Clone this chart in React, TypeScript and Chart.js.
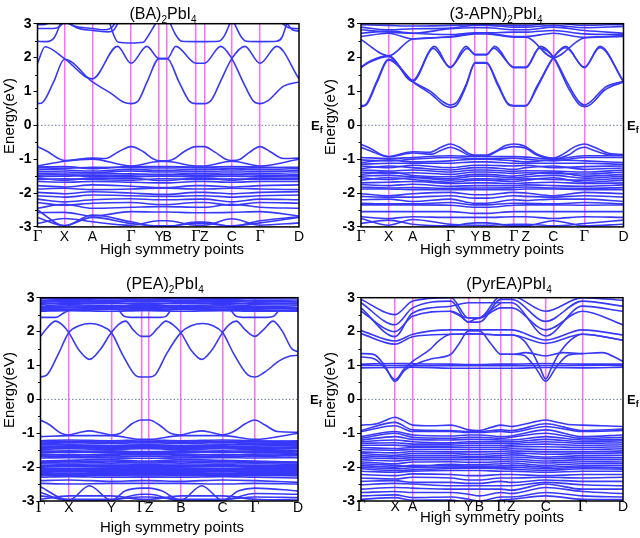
import React, { useEffect, useRef } from 'react';
import { Chart, registerables } from 'chart.js';
Chart.register(...registerables);

type Pt = [number, number];

const BAND = '#3838fa';
const MAGENTA = '#ff6cff';
const EF_COLOR = '#6b7a99';
const FONT = '"Liberation Sans", Arial, sans-serif';
const MINOR = [-2.5, -1.5, -0.5, 0.5, 1.5, 2.5];

// ---------------- Panel 1: (BA)2PbI4 ----------------
const kBA = [0, 10.3, 21.0, 35.8, 46.5, 49.6, 60.6, 63.8, 74.3, 85.1, 100];
const labelsBA = ['Γ', 'X', 'A', 'Γ', 'Y', 'B', 'Γ', 'Z', 'C', 'Γ', 'D'];
const curvesBA: Pt[][] = [
  [[0,0.64],[2,0.68],[6,1.25],[10.3,1.95],[21,1.28],[28,0.95],[33,0.68],[35.8,0.64],[38.5,0.72],[42,1.3],[46.5,1.97],[49.6,1.97],[54,1.3],[58,0.72],[60.6,0.64],[63.8,0.64],[66.5,0.75],[70,1.3],[74.3,1.97],[79.3,2.33],[85.1,1.83],[91.5,2.33],[100,1.37]],
  [[0,1.83],[2.9,2.32],[10.3,1.97],[21,1.37],[30.6,2.33],[35.8,1.83],[41.8,2.33],[46.5,1.97],[49.6,1.97],[52.9,2.33],[60.6,1.83],[63.8,1.83],[70.1,2.33],[74.3,1.97],[78.5,1.3],[82.5,0.72],[85.1,0.64],[88,0.72],[94,1.15],[100,1.28]],
  [[0,2.48],[3.5,2.47],[6.5,2.6],[9,3.05]],
  [[0,2.86],[6,2.86],[8.5,2.92],[10,3.05]],
  [[0,2.97],[3,2.98],[5,3.05]],
  [[11,3.05],[14,2.93],[21,2.86],[26,2.82],[28.5,2.9],[30,3.05]],
  [[11.5,3.05],[15,2.88],[21,2.8],[27,2.76],[29,2.8],[31,3.05]],
  [[27.5,3.05],[29.5,2.6],[31,2.45],[35.8,2.43],[40.5,2.45],[42,2.6],[45.5,3.05]],
  [[50.5,3.05],[53,2.65],[55.2,2.48],[60.6,2.47],[63.8,2.47],[69.2,2.48],[71.5,2.65],[73.8,3.05]],
  [[75,3.05],[78,2.6],[80,2.48],[85.1,2.47],[91.5,2.48],[93.5,2.6],[95.5,3.05]],
  [[93,3.05],[96,2.88],[100,2.85]],
  [[95,3.05],[97.5,2.82],[100,2.78]],
  [[0,-0.63],[4,-0.78],[8,-0.98],[10.3,-1.04],[21,-0.97],[26,-0.98],[31,-0.78],[35.8,-0.63],[40.5,-0.78],[44,-0.98],[46.5,-1.05],[49.6,-1.05],[52.5,-0.98],[56,-0.78],[60.6,-0.63],[63.8,-0.63],[68,-0.8],[72,-1.0],[74.3,-1.04],[77.5,-1.0],[81,-0.8],[85.1,-0.63],[89,-0.78],[94,-0.98],[100,-0.97]],
];
const levelsBA: number[][] = [
  [-1.2,-1.06,-1.0,-1.2,-1.07,-1.07,-1.2,-1.2,-1.06,-1.2,-1.0],
  [-1.23,-1.22,-1.28,-1.22,-1.22,-1.22,-1.23,-1.23,-1.22,-1.23,-1.28],
  [-1.25,-1.27,-1.24,-1.25,-1.26,-1.26,-1.25,-1.25,-1.27,-1.25,-1.24],
  [-1.3,-1.32,-1.35,-1.3,-1.33,-1.33,-1.3,-1.3,-1.32,-1.3,-1.33],
  [-1.36,-1.38,-1.4,-1.35,-1.38,-1.38,-1.36,-1.36,-1.38,-1.36,-1.38],
  [-1.42,-1.44,-1.44,-1.43,-1.45,-1.45,-1.42,-1.42,-1.44,-1.42,-1.45],
  [-1.47,-1.46,-1.52,-1.47,-1.46,-1.46,-1.47,-1.47,-1.46,-1.47,-1.5],
  [-1.52,-1.5,-1.48,-1.52,-1.5,-1.5,-1.52,-1.52,-1.5,-1.52,-1.48],
  [-1.56,-1.62,-1.56,-1.56,-1.63,-1.63,-1.56,-1.56,-1.62,-1.56,-1.56],
  [-1.6,-1.58,-1.6,-1.62,-1.58,-1.58,-1.6,-1.6,-1.58,-1.6,-1.6],
  [-1.66,-1.68,-1.66,-1.68,-1.7,-1.7,-1.66,-1.66,-1.68,-1.66,-1.66],
  [-1.78,-1.82,-1.76,-1.8,-1.84,-1.84,-1.78,-1.78,-1.82,-1.78,-1.76],
  [-1.88,-1.86,-1.9,-1.88,-1.86,-1.86,-1.88,-1.88,-1.86,-1.88,-1.9],
  [-1.98,-2.02,-1.96,-2.0,-2.04,-2.04,-1.98,-1.98,-2.02,-1.98,-1.96],
  [-2.08,-2.12,-2.06,-2.08,-2.1,-2.1,-2.08,-2.08,-2.12,-2.08,-2.06],
  [-2.18,-2.26,-2.2,-2.17,-2.2,-2.2,-2.18,-2.18,-2.26,-2.18,-2.2],
  [-2.28,-2.36,-2.3,-2.28,-2.34,-2.34,-2.28,-2.28,-2.36,-2.28,-2.3],
  [-2.45,-2.33,-2.45,-2.42,-2.4,-2.4,-2.42,-2.42,-2.33,-2.42,-2.45],
  [-2.58,-2.57,-2.68,-2.55,-2.56,-2.56,-2.58,-2.58,-2.57,-2.55,-2.68],
  [-2.5,-2.97,-2.65,-2.85,-3.0,-3.0,-2.86,-2.86,-2.98,-2.82,-2.7],
  [-2.72,-2.96,-2.72,-2.9,-2.97,-2.97,-2.9,-2.9,-2.97,-2.88,-2.72],
  [-2.9,-2.75,-2.85,-2.95,-2.82,-2.82,-2.95,-2.95,-2.76,-2.95,-2.88],
];

// ---------------- Panel 2: (3-APN)2PbI4 ----------------
const kAPN = [0, 10.5, 19.7, 34.0, 43.5, 47.8, 58.2, 62.8, 73.3, 85.1, 100];
const labelsAPN = ['Γ', 'X', 'A', 'Γ', 'Y', 'B', 'Γ', 'Z', 'C', 'Γ', 'D'];
const curvesAPN: Pt[][] = [
  [[0,0.55],[2,0.6],[6,1.25],[10.5,1.93],[19.7,1.28],[27,0.9],[31.5,0.6],[34,0.53],[36.5,0.6],[40,1.15],[43.5,1.83],[47.8,1.83],[52,1.2],[56,0.62],[58.2,0.57],[62.8,0.57],[67,1.1],[73.3,2.0],[78,2.33],[85.1,1.7],[91,2.33],[100,1.28]],
  [[0,0.57],[2,0.63],[6,1.3],[10.5,1.95],[19.7,1.3],[26.5,1.0],[31.5,0.68],[34,0.6],[36.5,0.68],[40,1.2],[43.5,1.85],[47.8,1.85],[52,1.25],[56,0.64],[58.2,0.58],[62.8,0.58],[67,1.15],[73.3,2.0],[78,2.29],[85.1,1.72],[91,2.29],[100,1.3]],
  [[0,1.70],[3,1.85],[10.5,2.03],[19.7,1.30],[28,2.33],[34,1.7],[40,2.33],[43.5,2.08],[47.8,2.08],[51,2.33],[58.2,1.7],[62.8,1.7],[68.5,2.33],[73.3,2.0],[79,1.1],[83,0.62],[85.1,0.55],[87.5,0.62],[93,1.05],[100,1.28]],
  [[0,1.72],[3.5,1.9],[10.5,2.05],[19.7,1.33],[27.5,2.27],[34,1.72],[40.5,2.27],[43.5,2.1],[47.8,2.1],[50.5,2.28],[58.2,1.72],[62.8,1.72],[68,2.28],[73.3,2.02],[79,1.2],[83,0.7],[85.1,0.6],[87.5,0.7],[93,1.12],[100,1.3]],
  [[0,-0.56],[4,-0.7],[8,-0.88],[10.5,-0.92],[19.7,-0.78],[26,-0.8],[30.5,-0.65],[34,-0.55],[37.5,-0.65],[41,-0.83],[43.5,-0.88],[47.8,-0.88],[51,-0.78],[55,-0.6],[58.2,-0.55],[60.5,-0.57],[62.8,-0.63],[67,-0.85],[73.3,-0.97],[77,-0.85],[81.5,-0.63],[85.1,-0.55],[89,-0.65],[94,-0.82],[100,-0.86]],
  [[0,-0.65],[5,-0.8],[10.5,-0.93],[19.7,-0.82],[27,-0.85],[31,-0.72],[34,-0.65],[37,-0.72],[42,-0.9],[47.8,-0.9],[53,-0.72],[58.2,-0.63],[62.8,-0.68],[67,-0.88],[73.3,-0.99],[79,-0.88],[82.5,-0.7],[85.1,-0.65],[88,-0.72],[94,-0.86],[100,-0.88]],
];
const levelsAPN: number[][] = [
  [2.97,2.95,2.93,2.95,2.97,2.97,2.95,2.95,3.02,2.95,2.98],
  [2.9,2.82,2.85,2.87,2.95,2.95,2.9,2.9,2.95,2.88,2.92],
  [2.82,2.75,2.72,2.85,2.88,2.88,2.82,2.82,2.9,2.8,2.72],
  [2.72,2.78,2.72,2.68,2.73,2.73,2.75,2.75,2.8,2.7,2.68],
  [2.62,2.72,2.55,2.62,2.72,2.72,2.62,2.62,2.72,2.6,2.65],
  [2.53,2.05,2.55,2.6,2.7,2.7,2.6,2.6,2.0,2.58,2.62],
  [-0.95,-0.98,-0.95,-0.9,-0.92,-0.92,-0.92,-0.94,-1.0,-0.9,-0.9],
  [-1.02,-1.05,-1.0,-0.95,-0.98,-0.98,-0.97,-1.0,-1.05,-0.95,-0.95],
  [-1.1,-1.02,-1.08,-1.05,-1.0,-1.0,-1.05,-1.08,-1.02,-1.05,-1.1],
  [-1.15,-1.12,-1.12,-1.12,-1.08,-1.08,-1.12,-1.12,-1.12,-1.12,-1.15],
  [-1.2,-1.25,-1.18,-1.25,-1.18,-1.18,-1.2,-1.18,-1.25,-1.22,-1.2],
  [-1.28,-1.2,-1.25,-1.32,-1.25,-1.25,-1.3,-1.25,-1.2,-1.3,-1.26],
  [-1.32,-1.35,-1.32,-1.38,-1.32,-1.32,-1.36,-1.34,-1.35,-1.38,-1.32],
  [-1.38,-1.42,-1.4,-1.45,-1.38,-1.38,-1.42,-1.4,-1.42,-1.44,-1.38],
  [-1.45,-1.38,-1.48,-1.52,-1.45,-1.45,-1.5,-1.46,-1.38,-1.5,-1.45],
  [-1.5,-1.48,-1.52,-1.58,-1.5,-1.5,-1.55,-1.52,-1.48,-1.56,-1.5],
  [-1.55,-1.6,-1.55,-1.62,-1.58,-1.58,-1.6,-1.58,-1.6,-1.62,-1.56],
  [-1.62,-1.55,-1.6,-1.68,-1.62,-1.62,-1.66,-1.62,-1.55,-1.68,-1.62],
  [-1.7,-1.68,-1.66,-1.72,-1.7,-1.7,-1.72,-1.7,-1.68,-1.72,-1.7],
  [-1.75,-1.78,-1.74,-1.8,-1.78,-1.78,-1.78,-1.76,-1.78,-1.8,-1.76],
  [-1.82,-1.85,-1.84,-1.86,-1.85,-1.85,-1.84,-1.82,-1.85,-1.86,-1.84],
  [-1.88,-1.88,-1.9,-1.9,-1.9,-1.9,-1.9,-1.88,-1.88,-1.9,-1.9],
  [-2.02,-2.08,-2.02,-1.98,-2.05,-2.05,-1.98,-2.0,-2.08,-1.98,-2.02],
  [-2.1,-2.12,-2.12,-2.08,-2.15,-2.15,-2.08,-2.1,-2.12,-2.08,-2.12],
  [-2.2,-2.18,-2.25,-2.18,-2.3,-2.3,-2.2,-2.22,-2.18,-2.18,-2.25],
  [-2.3,-2.32,-2.32,-2.28,-2.35,-2.35,-2.3,-2.3,-2.32,-2.28,-2.32],
  [-2.35,-2.35,-2.35,-2.36,-2.42,-2.42,-2.36,-2.35,-2.35,-2.36,-2.35],
  [-2.55,-2.55,-2.55,-2.55,-2.6,-2.6,-2.55,-2.55,-2.55,-2.55,-2.55],
  [-2.7,-2.75,-2.7,-2.72,-2.72,-2.72,-2.7,-2.7,-2.75,-2.7,-2.72],
  [-2.75,-2.95,-2.78,-2.92,-2.95,-2.95,-2.92,-2.92,-2.97,-2.9,-2.8],
  [-2.9,-2.8,-2.92,-2.97,-2.88,-2.88,-2.97,-2.97,-2.82,-2.97,-2.92],
];

// ---------------- Panel 3: (PEA)2PbI4 ----------------
const kPEA = [0, 11.0, 27.5, 39.2, 42.2, 54.5, 70.7, 83.3, 100];
const labelsPEA = ['Γ', 'X', 'Y', 'Γ', 'Z', 'B', 'C', 'Γ', 'D'];
const curvesPEA: Pt[][] = [
  [[0,0.66],[2.5,0.72],[7,1.35],[11,1.97],[15,2.17],[19.3,2.24],[23.5,2.17],[27.5,1.97],[32,1.3],[37,0.7],[39.2,0.66],[42.2,0.66],[44.5,0.72],[49,1.35],[54.5,1.97],[58.5,2.17],[63,2.24],[67,2.17],[70.7,1.97],[75,1.35],[80.5,0.72],[83.3,0.66],[87,0.8],[93,1.15],[97,1.28],[100,1.3]],
  [[0,1.86],[2.5,2.1],[5.8,2.31],[8.5,2.2],[11,1.97],[15,1.45],[19.1,1.18],[23,1.45],[27.5,1.97],[30.5,2.22],[33.1,2.31],[36,2.05],[39.2,1.86],[42.2,1.86],[45.5,2.1],[48.7,2.31],[51.5,2.2],[54.5,1.97],[58.5,1.45],[62.6,1.18],[66.5,1.45],[70.7,1.97],[73.5,2.22],[76,2.31],[79.5,2.05],[83.3,1.86],[86.5,2.05],[90.3,2.31],[94,2.0],[97.5,1.5],[100,1.4]],
  [[0,2.42],[6,2.42],[9,2.55],[11,2.62]],
  [[30.5,2.62],[32.5,2.45],[35,2.42],[39.2,2.42],[42.2,2.42],[46.5,2.42],[48.7,2.45],[50.5,2.62]],
  [[74,2.62],[76,2.45],[78.5,2.42],[83.3,2.42],[88,2.42],[90.5,2.45],[92.5,2.62]],
  [[0,-0.61],[3.5,-0.75],[8,-1.0],[11,-1.05],[15,-0.98],[19.1,-0.93],[23,-0.98],[27.5,-1.05],[31,-1.0],[35.5,-0.72],[39.2,-0.61],[42.2,-0.61],[46,-0.75],[50.5,-1.0],[54.5,-1.05],[58.5,-0.98],[62.6,-0.93],[66.5,-0.98],[70.7,-1.05],[75,-0.95],[79.5,-0.72],[83.3,-0.61],[87,-0.75],[92,-0.95],[100,-0.97]],
  [[0,-2.58],[11,-2.98],[19,-2.55],[27.5,-2.98],[33,-2.7],[39.2,-2.62],[42.2,-2.62],[47,-2.7],[54.5,-2.98],[62.6,-2.55],[70.7,-2.98],[77,-2.7],[83.3,-2.62],[100,-2.7]],
];
const levelsPEA: number[][] = [
  [2.6,2.62,2.6,2.62,2.62,2.6,2.62,2.6,2.62],
  [2.63,2.64,2.66,2.63,2.63,2.66,2.64,2.63,2.61],
  [2.65,2.66,2.68,2.64,2.64,2.68,2.66,2.65,2.6],
  [2.68,2.7,2.72,2.68,2.68,2.72,2.7,2.68,2.66],
  [2.7,2.72,2.7,2.72,2.72,2.7,2.72,2.7,2.68],
  [2.73,2.76,2.74,2.75,2.75,2.74,2.76,2.73,2.7],
  [2.75,2.8,2.76,2.78,2.78,2.76,2.8,2.75,2.72],
  [2.8,2.86,2.82,2.84,2.84,2.82,2.86,2.8,2.78],
  [2.83,2.83,2.86,2.8,2.8,2.86,2.83,2.83,2.82],
  [2.86,2.9,2.88,2.88,2.88,2.88,2.9,2.86,2.84],
  [2.9,2.92,2.91,2.92,2.92,2.91,2.92,2.9,2.88],
  [2.92,2.95,2.93,2.94,2.94,2.93,2.95,2.92,2.9],
  [2.97,2.98,2.98,2.99,2.99,2.98,2.98,2.97,2.96],
  [-1.1,-1.07,-1.07,-1.18,-1.18,-1.07,-1.07,-1.18,-1.0],
  [-1.22,-1.2,-1.22,-1.2,-1.2,-1.22,-1.2,-1.22,-1.25],
  [-1.24,-1.24,-1.27,-1.24,-1.24,-1.27,-1.24,-1.24,-1.22],
  [-1.26,-1.27,-1.25,-1.27,-1.27,-1.25,-1.27,-1.26,-1.28],
  [-1.3,-1.32,-1.3,-1.32,-1.32,-1.3,-1.32,-1.3,-1.3],
  [-1.34,-1.35,-1.36,-1.35,-1.35,-1.36,-1.35,-1.34,-1.33],
  [-1.38,-1.4,-1.38,-1.4,-1.4,-1.38,-1.4,-1.38,-1.36],
  [-1.42,-1.44,-1.42,-1.44,-1.44,-1.42,-1.44,-1.42,-1.4],
  [-1.45,-1.42,-1.45,-1.42,-1.42,-1.45,-1.42,-1.45,-1.42],
  [-1.48,-1.46,-1.48,-1.46,-1.46,-1.48,-1.46,-1.48,-1.45],
  [-1.52,-1.54,-1.52,-1.54,-1.54,-1.52,-1.54,-1.52,-1.5],
  [-1.55,-1.52,-1.55,-1.57,-1.57,-1.55,-1.52,-1.55,-1.53],
  [-1.58,-1.56,-1.58,-1.6,-1.6,-1.58,-1.56,-1.58,-1.55],
  [-1.62,-1.65,-1.62,-1.64,-1.64,-1.62,-1.65,-1.62,-1.6],
  [-1.65,-1.62,-1.66,-1.61,-1.61,-1.66,-1.62,-1.65,-1.63],
  [-1.68,-1.68,-1.7,-1.68,-1.68,-1.7,-1.68,-1.68,-1.66],
  [-1.73,-1.72,-1.73,-1.74,-1.74,-1.73,-1.72,-1.73,-1.72],
  [-1.82,-1.8,-1.78,-1.82,-1.82,-1.78,-1.8,-1.82,-1.85],
  [-1.84,-1.84,-1.82,-1.85,-1.85,-1.82,-1.84,-1.84,-1.86],
  [-1.86,-1.88,-1.85,-1.88,-1.88,-1.85,-1.88,-1.86,-1.88],
  [-1.9,-1.92,-1.9,-1.92,-1.92,-1.9,-1.92,-1.9,-1.92],
  [-1.95,-1.96,-1.94,-1.96,-1.96,-1.94,-1.96,-1.95,-1.96],
  [-1.98,-1.97,-1.98,-1.98,-1.98,-1.98,-1.97,-1.98,-1.98],
  [-2.0,-1.99,-2.0,-2.0,-2.0,-2.0,-1.99,-2.0,-2.0],
  [-2.04,-2.04,-2.05,-2.04,-2.04,-2.05,-2.04,-2.04,-2.04],
  [-2.06,-2.06,-2.07,-2.06,-2.06,-2.07,-2.06,-2.06,-2.06],
  [-2.08,-2.08,-2.1,-2.08,-2.08,-2.1,-2.08,-2.08,-2.08],
  [-2.1,-2.11,-2.08,-2.1,-2.1,-2.08,-2.11,-2.1,-2.1],
  [-2.12,-2.14,-2.12,-2.12,-2.12,-2.12,-2.14,-2.12,-2.12],
  [-2.16,-2.18,-2.16,-2.17,-2.17,-2.16,-2.18,-2.16,-2.16],
  [-2.18,-2.2,-2.18,-2.19,-2.19,-2.18,-2.2,-2.18,-2.19],
  [-2.2,-2.22,-2.2,-2.21,-2.21,-2.2,-2.22,-2.2,-2.22],
  [-2.23,-2.24,-2.22,-2.23,-2.23,-2.22,-2.24,-2.23,-2.24],
  [-2.25,-2.25,-2.25,-2.26,-2.26,-2.25,-2.25,-2.25,-2.26],
  [-2.3,-2.28,-2.3,-2.3,-2.3,-2.3,-2.28,-2.3,-2.32],
  [-2.4,-2.38,-2.42,-2.4,-2.4,-2.42,-2.38,-2.4,-2.45],
  [-2.48,-2.5,-2.48,-2.48,-2.48,-2.48,-2.5,-2.48,-2.5],
  [-2.75,-3.0,-2.98,-2.8,-2.8,-3.0,-2.98,-2.78,-2.8],
  [-2.85,-2.95,-2.95,-2.88,-2.88,-2.95,-2.95,-2.88,-2.9],
  [-2.95,-2.85,-2.85,-2.95,-2.95,-2.85,-2.85,-2.95,-2.97],
];

// ---------------- Panel 4: (PyrEA)PbI4 ----------------
const kPyr = [0, 13.0, 19.7, 34.3, 41.0, 45.2, 53.4, 57.4, 70.5, 84.5, 100];
const labelsPyr = ['Γ', 'X', 'A', 'Γ', 'Y', 'B', 'Γ', 'Z', 'C', 'Γ', 'D'];
const curvesPyr: Pt[][] = [
  [[0,1.35],[5,1.32],[9,1.0],[13,0.53],[16.5,0.85],[19.7,1.0],[27,1.2],[34.3,1.33],[37.5,1.65],[41,2.02],[45.2,2.02],[49.5,1.65],[53.4,1.33],[57.4,1.33],[62,1.3],[66.5,0.95],[70.5,0.53],[74.5,0.95],[79,1.3],[84.5,1.35],[92,1.38],[100,1.12]],
  [[0,1.25],[5,1.2],[9.5,0.9],[13,0.58],[16.5,0.9],[19.7,1.12],[26,1.45],[30,1.75],[34.3,1.92],[41,1.93],[45.2,1.93],[53.4,1.9],[57.4,1.9],[62,1.75],[66,1.3],[68.5,0.9],[70.5,0.6],[72.5,0.9],[75,1.28],[80,1.75],[84.5,1.92],[100,1.75]],
  [[53.4,1.33],[57.4,1.33],[63,1.38],[70.5,1.28],[77,1.38],[84.5,1.35]],
  [[34.3,2.6],[38,2.45],[41,2.28],[43,2.35],[45.2,2.4],[49,2.6],[53.4,2.85]],
  [[0,-0.76],[6,-0.72],[10,-0.6],[13,-0.53],[16,-0.62],[19.7,-0.76],[27,-0.78],[34.3,-0.76],[41,-0.9],[45.2,-0.92],[50,-0.82],[53.4,-0.76],[57.4,-0.8],[63,-0.72],[67,-0.65],[70.5,-0.61],[74,-0.66],[79,-0.74],[84.5,-0.76],[92,-0.78],[100,-0.8]],
];
const levelsPyr: number[][] = [
  [1.04,1.06,1.05,1.04,1.03,1.03,1.04,1.04,1.06,1.04,1.04],
  [1.0,1.0,1.0,0.99,0.99,0.99,0.99,0.99,1.0,1.0,1.01],
  [0.93,0.94,0.95,0.92,0.92,0.92,0.92,0.92,0.94,0.93,0.95],
  [2.03,1.72,1.92,2.05,2.05,2.05,2.05,2.05,1.75,2.05,1.9],
  [1.94,1.63,1.85,1.92,1.93,1.93,1.9,1.9,1.65,1.92,1.75],
  [2.7,1.85,2.55,2.75,2.85,2.85,2.85,2.85,1.87,2.75,2.6],
  [2.6,2.0,2.45,2.6,2.4,2.4,2.7,2.7,2.05,2.6,2.2],
  [2.85,2.2,2.7,2.9,2.28,2.28,2.95,2.95,2.3,2.9,2.75],
  [2.95,2.5,2.9,3.0,2.4,2.4,3.05,3.05,2.6,3.0,2.92],
  [-0.92,-0.68,-0.9,-0.92,-0.95,-0.95,-0.9,-0.92,-0.72,-0.92,-0.88],
  [-0.95,-0.78,-0.95,-0.95,-0.98,-0.98,-0.95,-0.97,-0.8,-0.95,-0.92],
  [-1.1,-0.95,-1.05,-1.08,-1.05,-1.05,-1.1,-1.08,-0.9,-1.1,-1.05],
  [-1.15,-1.0,-1.12,-1.15,-1.12,-1.12,-1.15,-1.12,-1.0,-1.15,-1.12],
  [-1.2,-1.1,-1.18,-1.2,-1.18,-1.18,-1.2,-1.2,-1.1,-1.2,-1.18],
  [-1.25,-1.2,-1.25,-1.28,-1.25,-1.25,-1.25,-1.25,-1.18,-1.25,-1.22],
  [-1.3,-1.28,-1.32,-1.32,-1.3,-1.3,-1.3,-1.3,-1.25,-1.3,-1.28],
  [-1.36,-1.35,-1.38,-1.38,-1.36,-1.36,-1.36,-1.35,-1.32,-1.36,-1.34],
  [-1.42,-1.45,-1.42,-1.42,-1.42,-1.42,-1.42,-1.4,-1.4,-1.42,-1.4],
  [-1.48,-1.5,-1.48,-1.48,-1.48,-1.48,-1.48,-1.46,-1.48,-1.48,-1.46],
  [-1.55,-1.58,-1.54,-1.55,-1.55,-1.55,-1.54,-1.52,-1.55,-1.55,-1.52],
  [-1.6,-1.65,-1.6,-1.6,-1.62,-1.62,-1.6,-1.58,-1.62,-1.6,-1.58],
  [-1.66,-1.7,-1.66,-1.66,-1.68,-1.68,-1.66,-1.64,-1.7,-1.66,-1.65],
  [-1.72,-1.75,-1.72,-1.72,-1.72,-1.72,-1.72,-1.7,-1.75,-1.72,-1.72],
  [-1.78,-1.82,-1.78,-1.78,-1.78,-1.78,-1.78,-1.76,-1.82,-1.78,-1.78],
  [-1.84,-1.9,-1.85,-1.84,-1.86,-1.86,-1.84,-1.82,-1.88,-1.84,-1.85],
  [-1.9,-1.95,-1.98,-1.92,-1.93,-1.93,-1.9,-1.88,-1.95,-1.9,-1.9],
  [-1.95,-2.0,-1.95,-1.96,-1.97,-1.97,-1.96,-1.94,-2.0,-1.96,-1.96],
  [-2.0,-2.05,-2.02,-2.0,-2.0,-2.0,-2.0,-2.0,-2.05,-2.0,-2.02],
  [-2.05,-2.1,-2.08,-2.04,-2.03,-2.03,-2.05,-2.06,-2.1,-2.05,-2.06],
  [-2.12,-2.15,-2.12,-2.1,-2.1,-2.1,-2.12,-2.12,-2.15,-2.12,-2.12],
  [-2.22,-2.25,-2.2,-2.22,-2.25,-2.25,-2.22,-2.22,-2.25,-2.22,-2.22],
  [-2.32,-2.35,-2.3,-2.32,-2.38,-2.38,-2.32,-2.32,-2.3,-2.32,-2.3],
  [-2.42,-2.4,-2.45,-2.45,-2.48,-2.48,-2.42,-2.45,-2.38,-2.42,-2.42],
  [-2.52,-2.48,-2.5,-2.55,-2.55,-2.55,-2.55,-2.55,-2.45,-2.52,-2.55],
  [-2.65,-2.6,-2.62,-2.65,-2.65,-2.65,-2.65,-2.68,-2.5,-2.65,-2.65],
  [-2.75,-2.72,-2.75,-2.75,-2.8,-2.85,-2.75,-2.78,-2.6,-2.72,-2.78],
  [-2.85,-2.82,-2.9,-2.88,-2.95,-3.0,-2.88,-2.88,-2.75,-2.85,-2.88],
  [-2.95,-2.9,-2.98,-2.97,-3.05,-3.05,-2.97,-2.95,-2.85,-2.95,-2.96],
];

const titleBA: [string, boolean][] = [['(BA)', false], ['2', true], ['PbI', false], ['4', true]];
const titleAPN: [string, boolean][] = [['(3-APN)', false], ['2', true], ['PbI', false], ['4', true]];
const titlePEA: [string, boolean][] = [['(PEA)', false], ['2', true], ['PbI', false], ['4', true]];
const titlePyr: [string, boolean][] = [['(PyrEA)PbI', false], ['4', true]];

interface PanelCfg {
  left: number; top: number;
  area: { l: number; r: number; t: number; b: number };
  kPos: number[]; labels: string[];
  curves: Pt[][]; levels: number[][];
  title: [string, boolean][];
  titleX: number; titleY: number;
  labelY: number; xTitleX: number; xTitleY: number;
  yTitleX: number; yTitleY: number; efX: number;
}

const CW = 336;
const H = 269;

const panels: PanelCfg[] = [
  { left: 0, top: 0, area: { l: 37.5, r: 299, t: 23.7, b: 226.9 }, kPos: kBA, labels: labelsBA, curves: curvesBA, levels: levelsBA, title: titleBA, titleX: 163, titleY: 15, labelY: 237, xTitleX: 172, xTitleY: 250, yTitleX: 10, yTitleY: 116, efX: 311 },
  { left: 320, top: 0, area: { l: 41, r: 303.5, t: 23.7, b: 226.9 }, kPos: kAPN, labels: labelsAPN, curves: curvesAPN, levels: levelsAPN, title: titleAPN, titleX: 176, titleY: 15, labelY: 237, xTitleX: 172, xTitleY: 250, yTitleX: 11, yTitleY: 117, efX: 307 },
  { left: 0, top: 269, area: { l: 40.5, r: 298, t: 28.7, b: 232 }, kPos: kPEA, labels: labelsPEA, curves: curvesPEA, levels: levelsPEA, title: titlePEA, titleX: 165, titleY: 16, labelY: 239, xTitleX: 172, xTitleY: 259, yTitleX: 10, yTitleY: 121, efX: 310 },
  { left: 320, top: 269, area: { l: 41, r: 303, t: 28.7, b: 232 }, kPos: kPyr, labels: labelsPyr, curves: curvesPyr, levels: levelsPyr, title: titlePyr, titleX: 189, titleY: 16, labelY: 238, xTitleX: 172, xTitleY: 249, yTitleX: 11, yTitleY: 121, efX: 307 },
];

function decorPlugin(cfg: PanelCfg) {
  return {
    id: 'decor',
    afterDraw(chart: any) {
      const { ctx, chartArea: a, scales } = chart;
      const x = scales.x, y = scales.y;
      ctx.save();
      ctx.strokeStyle = '#000';
      ctx.lineWidth = 1.5;
      ctx.strokeRect(a.left, a.top, a.right - a.left, a.bottom - a.top);
      ctx.lineWidth = 1;
      for (const v of MINOR) {
        const py = Math.round(y.getPixelForValue(v)) + 0.5;
        ctx.beginPath();
        ctx.moveTo(a.left - 2.5, py);
        ctx.lineTo(a.left, py);
        ctx.stroke();
      }
      ctx.fillStyle = '#000';
      ctx.textBaseline = 'middle';
      ctx.textAlign = 'center';
      cfg.kPos.forEach((k, i) => {
        const lab = cfg.labels[i];
        ctx.font = lab === 'Γ' ? '16px "Liberation Serif", serif' : '14px ' + FONT;
        ctx.fillText(lab, x.getPixelForValue(k), cfg.labelY);
      });
      ctx.font = '15px ' + FONT;
      ctx.fillText('High symmetry points', cfg.xTitleX, cfg.xTitleY);
      ctx.save();
      ctx.translate(cfg.yTitleX, cfg.yTitleY);
      ctx.rotate(-Math.PI / 2);
      ctx.fillText('Energy(eV)', 0, 0);
      ctx.restore();
      const mainFont = '16px ' + FONT;
      const subFont = '10px ' + FONT;
      let total = 0;
      for (const [t, sub] of cfg.title) {
        ctx.font = sub ? subFont : mainFont;
        total += ctx.measureText(t).width;
      }
      let cx = cfg.titleX - total / 2;
      ctx.textAlign = 'left';
      for (const [t, sub] of cfg.title) {
        ctx.font = sub ? subFont : mainFont;
        ctx.fillText(t, cx, cfg.titleY + (sub ? 5 : 0));
        cx += ctx.measureText(t).width;
      }
      const y0 = y.getPixelForValue(0);
      ctx.font = 'bold 13px ' + FONT;
      ctx.fillText('E', cfg.efX, y0 + 1);
      const wE = ctx.measureText('E').width;
      ctx.font = 'bold 9px ' + FONT;
      ctx.fillText('f', cfg.efX + wE, y0 + 5);
      ctx.restore();
    },
  };
}

function Panel({ cfg }: { cfg: PanelCfg }) {
  const ref = useRef<HTMLCanvasElement>(null);
  useEffect(() => {
    const mk = (data: { x: number; y: number }[]) => ({
      data,
      borderColor: BAND,
      borderWidth: 1.6,
      pointRadius: 0,
      fill: false,
      cubicInterpolationMode: 'monotone' as const,
    });
    const datasets: any[] = [
      {
        data: [{ x: 0, y: 0 }, { x: 100, y: 0 }],
        borderColor: EF_COLOR,
        borderWidth: 1,
        borderDash: [1.5, 2],
        pointRadius: 0,
        fill: false,
      },
    ];
    cfg.curves.forEach((c) => datasets.push(mk(c.map(([x, y]) => ({ x, y })))));
    cfg.levels.forEach((v) => datasets.push(mk(v.map((y, i) => ({ x: cfg.kPos[i], y })))));
    const inner = cfg.kPos.slice(1, -1);
    const chart = new Chart(ref.current as HTMLCanvasElement, {
      type: 'line',
      data: { datasets },
      options: {
        animation: false,
        responsive: false,
        events: [],
        plugins: { legend: { display: false }, tooltip: { enabled: false }, title: { display: false } },
        layout: { padding: { left: 0, top: cfg.area.t, right: CW - cfg.area.r, bottom: 0 } },
        scales: {
          x: {
            type: 'linear',
            min: 0,
            max: 100,
            afterBuildTicks: (s: any) => {
              s.ticks = inner.map((v) => ({ value: v }));
            },
            ticks: { display: false },
            grid: { color: MAGENTA, lineWidth: 1.5, drawTicks: false },
            border: { display: false },
            afterFit: (s: any) => {
              s.height = H - cfg.area.b;
            },
          },
          y: {
            type: 'linear',
            min: -3,
            max: 3,
            ticks: { stepSize: 1, color: '#000', padding: 2, font: { family: FONT, size: 14, weight: 'bold' } },
            grid: { drawOnChartArea: false, drawTicks: true, tickLength: 4, color: '#000' },
            border: { display: false },
            afterFit: (s: any) => {
              s.width = cfg.area.l;
            },
          },
        },
      } as any,
      plugins: [decorPlugin(cfg)],
    });
    return () => chart.destroy();
  }, [cfg]);
  return (
    <canvas
      ref={ref}
      width={CW}
      height={H}
      style={{ position: 'absolute', left: cfg.left, top: cfg.top, width: CW, height: H }}
    />
  );
}

export default function App() {
  return (
    <div style={{ position: 'absolute', left: 0, top: 0, width: 640, height: 538, background: '#fff', overflow: 'hidden' }}>
      {panels.map((p, i) => (
        <Panel key={i} cfg={p} />
      ))}
    </div>
  );
}
